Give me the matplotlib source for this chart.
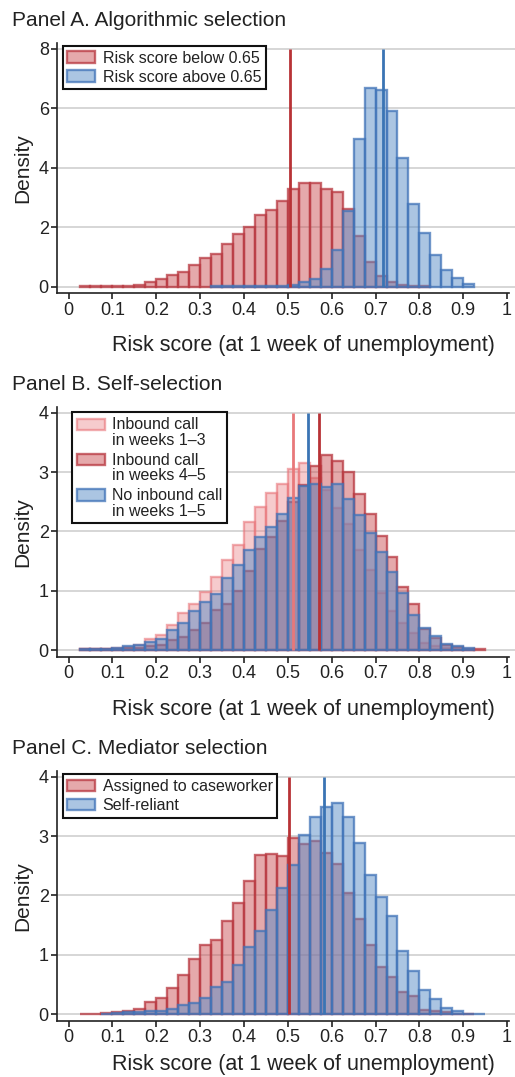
import numpy as np
import matplotlib
matplotlib.use('Agg')
import matplotlib.pyplot as plt
from matplotlib.patches import Patch, Rectangle
from matplotlib.legend_handler import HandlerPatch

plt.rcParams['font.family'] = ['Liberation Sans', 'DejaVu Sans']

# Data (histogram densities, bin width 0.025)
bin_w = 0.025

# Panel A
a_below_start = 0.025
a_below = [0.01, 0.01, 0.02, 0.03, 0.04, 0.07, 0.17, 0.25, 0.38, 0.48, 0.72, 0.95,
           1.1, 1.42, 1.77, 2.0, 2.42, 2.58, 2.87, 3.28, 3.5, 3.5, 3.28, 3.18,
           2.62, 1.7, 0.82, 0.35, 0.15, 0.07, 0.03, 0.01]
a_above_start = 0.325
a_above = [0.01, 0.01, 0.01, 0.01, 0.01, 0.02, 0.03, 0.07, 0.15, 0.25, 0.58, 1.25,
           2.53, 4.97, 6.68, 6.6, 5.9, 4.34, 2.77, 1.8, 1.07, 0.55, 0.3, 0.08]
a_means = [0.505, 0.716]

# Panel B
b_start = 0.025
b_wk13 = [0.01, 0.01, 0.02, 0.03, 0.05, 0.08, 0.19, 0.25, 0.43, 0.63, 0.78, 0.98,
          1.23, 1.52, 1.77, 2.15, 2.41, 2.64, 2.79, 3.05, 3.15, 2.9, 2.7, 2.39,
          2.12, 1.69, 1.35, 0.96, 0.66, 0.45, 0.29, 0.12, 0.06, 0.03, 0.02, 0.01, 0.0]
b_wk45 = [0.01, 0.01, 0.01, 0.02, 0.03, 0.04, 0.06, 0.08, 0.17, 0.22, 0.34, 0.46,
          0.67, 0.78, 1.0, 1.33, 1.7, 1.9, 2.18, 2.5, 2.78, 3.11, 3.28, 3.19,
          3.0, 2.63, 2.3, 1.92, 1.56, 1.07, 0.77, 0.36, 0.2, 0.08, 0.05, 0.02, 0.01]
b_none = [0.01, 0.01, 0.02, 0.04, 0.06, 0.08, 0.13, 0.19, 0.33, 0.46, 0.65, 0.81,
          0.94, 1.22, 1.43, 1.68, 1.91, 2.08, 2.29, 2.57, 2.77, 2.79, 2.74, 2.79,
          2.54, 2.27, 1.97, 1.66, 1.32, 0.96, 0.59, 0.37, 0.24, 0.1, 0.06, 0.03, 0.0]
b_means = [0.511, 0.571, 0.546]

# Panel C
c_start = 0.025
c_case = [0.01, 0.01, 0.02, 0.03, 0.06, 0.08, 0.2, 0.28, 0.45, 0.66, 0.93, 1.16,
          1.25, 1.57, 1.87, 2.25, 2.68, 2.7, 2.67, 2.97, 2.87, 2.92, 2.72, 2.53,
          2.05, 1.6, 1.17, 0.8, 0.62, 0.37, 0.3, 0.07, 0.05, 0.03, 0.01, 0.01, 0.0]
c_self = [0.0, 0.0, 0.01, 0.02, 0.03, 0.03, 0.05, 0.06, 0.09, 0.15, 0.19, 0.28,
          0.46, 0.54, 0.83, 1.14, 1.41, 1.75, 2.12, 2.52, 3.02, 3.33, 3.49, 3.55,
          3.33, 2.89, 2.35, 1.98, 1.65, 1.06, 0.73, 0.4, 0.25, 0.1, 0.06, 0.01, 0.01]
c_means = [0.503, 0.582]

# Colours
red_face = (0.80, 0.33, 0.35, 0.5)
red_edge = (0.72, 0.22, 0.25, 0.75)
red_line = '#b83236'
pink_face = (0.93, 0.55, 0.57, 0.45)
pink_edge = (0.91, 0.45, 0.47, 0.6)
pink_line = '#e8787a'
blue_face = (0.35, 0.55, 0.78, 0.5)
blue_edge = (0.25, 0.45, 0.72, 0.75)
blue_line = '#3a74b4'
txt = '#222222'


class TopPatch(HandlerPatch):
    # legend key aligned with the first line of a two-line label
    def __init__(self, shift=0.0):
        super().__init__()
        self.shift = shift

    def create_artists(self, legend, orig_handle, xdescent, ydescent, width, height, fontsize, trans):
        p = Rectangle((-xdescent, -ydescent + self.shift * fontsize), width, height)
        self.update_prop(p, orig_handle, legend)
        p.set_transform(trans)
        return [p]


def hist_bars(ax, start, vals, face, edge):
    vals = np.array(vals)
    left = start + bin_w * np.arange(len(vals))
    keep = vals > 0
    ax.bar(left[keep], vals[keep], width=bin_w, align='edge',
           color=face, edgecolor=edge, linewidth=1.7, zorder=2)


def style_axes(ax, yticks, ylim, title, xpad=12):
    ax.set_xlim(-0.026, 1.018)
    ax.set_ylim(*ylim)
    ax.set_xticks(np.arange(0, 1.01, 0.1))
    ax.set_xticklabels(['0', '0.1', '0.2', '0.3', '0.4', '0.5', '0.6', '0.7', '0.8', '0.9', '1'])
    ax.set_yticks(yticks)
    ax.grid(axis='y', color='#d0d0d0', linewidth=1.2, zorder=0)
    ax.set_axisbelow(True)
    for s in ['top', 'right']:
        ax.spines[s].set_visible(False)
    ax.spines['left'].set_bounds(ylim[0], ylim[1])
    ax.spines['bottom'].set_bounds(-0.026, 1.004)
    for s in ['left', 'bottom']:
        ax.spines[s].set_linewidth(1.2)
        ax.spines[s].set_color(txt)
    ax.tick_params(labelsize=13, length=4, width=1.2, pad=2, color=txt, labelcolor=txt)
    ax.set_ylabel('Density', fontsize=15, color=txt, labelpad=5)
    ax.set_xlabel('Risk score (at 1 week of unemployment)', fontsize=15.5, color=txt, labelpad=xpad)
    ax.xaxis.label.set_x(0.537)
    ax.annotate(title, xy=(0, 1), xycoords='axes fraction', xytext=(-45, 17),
                textcoords='offset pixels', fontsize=15, color=txt, ha='left', va='baseline')


def add_legend(ax, handles, labels, anchor, shift=0.0, spacing=0.25):
    leg = ax.legend(handles, labels, loc='upper left', bbox_to_anchor=anchor, fontsize=11.5,
                    fancybox=False, framealpha=1, edgecolor='#111111',
                    handlelength=1.75, handleheight=0.7, borderpad=0.3,
                    labelspacing=spacing, handletextpad=0.45, borderaxespad=0.2,
                    handler_map={Patch: TopPatch(shift)})
    leg.get_frame().set_linewidth(1.5)
    for t in leg.get_texts():
        t.set_color(txt)
        t.set_linespacing(1.05)
    return leg


fig = plt.figure(figsize=(5.15, 10.77), dpi=100)

hRB = [Patch(facecolor=red_face, edgecolor=red_edge, linewidth=1.7),
       Patch(facecolor=blue_face, edgecolor=blue_edge, linewidth=1.7)]

# Panel A
axA = fig.add_axes([0.111, 0.7277, 0.889, 0.2327])
hist_bars(axA, a_below_start, a_below, red_face, red_edge)
hist_bars(axA, a_above_start, a_above, blue_face, blue_edge)
axA.vlines(a_means[0], 0, 8, color=red_line, linewidth=2, zorder=3)
axA.vlines(a_means[1], 0, 8, color=blue_line, linewidth=2, zorder=3)
style_axes(axA, [0, 2, 4, 6, 8], (-0.22, 8.2), 'Panel A. Algorithmic selection')
add_legend(axA, hRB, ['Risk score below 0.65', 'Risk score above 0.65'], (0.005, 1.0))

# Panel B
axB = fig.add_axes([0.111, 0.3904, 0.889, 0.2319])
hist_bars(axB, b_start, b_wk13, pink_face, pink_edge)
hist_bars(axB, b_start, b_wk45, red_face, red_edge)
hist_bars(axB, b_start, b_none, blue_face, blue_edge)
axB.vlines(b_means[0], 0, 4, color=pink_line, linewidth=2, zorder=3)
axB.vlines(b_means[1], 0, 4, color=red_line, linewidth=2, zorder=3)
axB.vlines(b_means[2], 0, 4, color=blue_line, linewidth=2, zorder=3)
style_axes(axB, [0, 1, 2, 3, 4], (-0.11, 4.1), 'Panel B. Self-selection')
hB = [Patch(facecolor=pink_face, edgecolor=pink_edge, linewidth=1.7),
      Patch(facecolor=red_face, edgecolor=red_edge, linewidth=1.7),
      Patch(facecolor=blue_face, edgecolor=blue_edge, linewidth=1.7)]
add_legend(axB, hB, ['Inbound call\nin weeks 1\u20133', 'Inbound call\nin weeks 4\u20135',
                     'No inbound call\nin weeks 1\u20135'], (0.025, 0.99), shift=0.55, spacing=0.3)

# Panel C
axC = fig.add_axes([0.111, 0.0522, 0.889, 0.2321])
hist_bars(axC, c_start, c_case, red_face, red_edge)
hist_bars(axC, c_start, c_self, blue_face, blue_edge)
axC.vlines(c_means[0], 0, 4, color=red_line, linewidth=2, zorder=3)
axC.vlines(c_means[1], 0, 4, color=blue_line, linewidth=2, zorder=3)
style_axes(axC, [0, 1, 2, 3, 4], (-0.11, 4.1), 'Panel C. Mediator selection', xpad=5.5)
add_legend(axC, hRB, ['Assigned to caseworker', 'Self-reliant'], (0.005, 1.0))

fig.savefig('out.png', dpi=100)
